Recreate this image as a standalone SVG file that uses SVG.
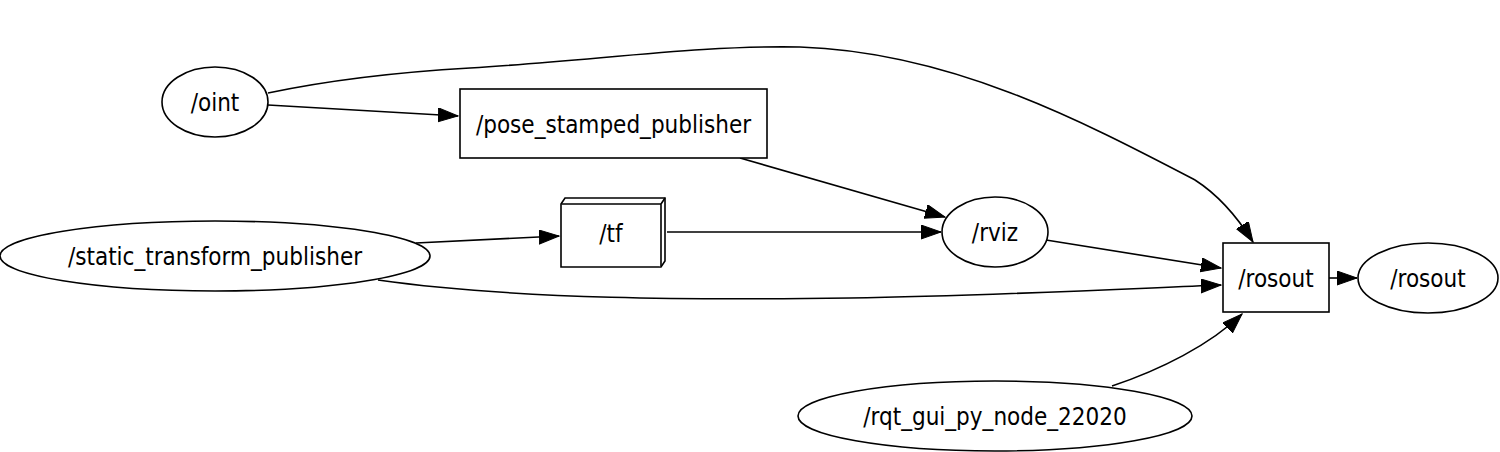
<svg xmlns="http://www.w3.org/2000/svg" width="1500" height="452" viewBox="0 0 1500 452">
<style>
.n{fill:#fff;stroke:#000;stroke-width:1.6}
.t{font-family:"DejaVu Sans Condensed","DejaVu Sans",sans-serif;font-stretch:condensed;font-size:24px;text-anchor:middle;fill:#000}
.e{fill:none;stroke:#000;stroke-width:1.6;marker-end:url(#a)}
</style>
<defs>
<marker id="a" markerUnits="userSpaceOnUse" markerWidth="22" markerHeight="16" refX="20" refY="7" orient="auto">
<path d="M0,0 L20,7 L0,14 z" fill="#000" stroke="#000" stroke-width="1"/>
</marker>
</defs>
<rect width="1500" height="452" fill="#fff"/>
<g id="edges">
<path class="e" d="M268,105 L458,116"/>
<path class="e" d="M268,93 C330,80 400,72 470,68 C600,60 700,45 800,47 C950,52 1080,120 1195,180 C1220,196 1238,218 1253,242"/>
<path class="e" d="M740,158 L945,217"/>
<path class="e" d="M416,243 L559,236"/>
<path class="e" d="M667,232 L941,232"/>
<path class="e" d="M1046,240 L1221,268"/>
<path class="e" d="M378,280 C520,300 700,300 850,298 C980,296 1100,290 1221,285"/>
<path class="e" d="M1329,278 L1357,278"/>
<path class="e" d="M1112,386 C1160,370 1210,345 1242,314"/>
</g>
<g id="oint"><ellipse class="n" cx="215" cy="102" rx="53" ry="35"/><text class="t" x="215" y="111">/oint</text></g>
<g id="pose_stamped_publisher"><rect class="n" x="460" y="89" width="307" height="69"/><text class="t" x="613.5" y="133">/pose_stamped_publisher</text></g>
<g id="tf"><path class="n" d="M561,204 L565,198 L665,198 L665,261 L661,267 L561,267 Z"/><path class="n" d="M561,204 L661,204 L661,267 M661,204 L665,198"/><text class="t" x="611" y="242">/tf</text></g>
<g id="static_transform_publisher"><ellipse class="n" cx="215" cy="256" rx="215" ry="35"/><text class="t" x="215" y="265">/static_transform_publisher</text></g>
<g id="rviz"><ellipse class="n" cx="995" cy="232" rx="53" ry="35"/><text class="t" x="995" y="241">/rviz</text></g>
<g id="rosout_topic"><rect class="n" x="1223" y="243" width="106" height="69"/><text class="t" x="1276" y="287">/rosout</text></g>
<g id="rosout_node"><ellipse class="n" cx="1428" cy="278" rx="70" ry="35"/><text class="t" x="1428" y="287">/rosout</text></g>
<g id="rqt_gui_py_node_22020"><ellipse class="n" cx="995" cy="416" rx="197" ry="35"/><text class="t" x="995" y="425">/rqt_gui_py_node_22020</text></g>
</svg>
